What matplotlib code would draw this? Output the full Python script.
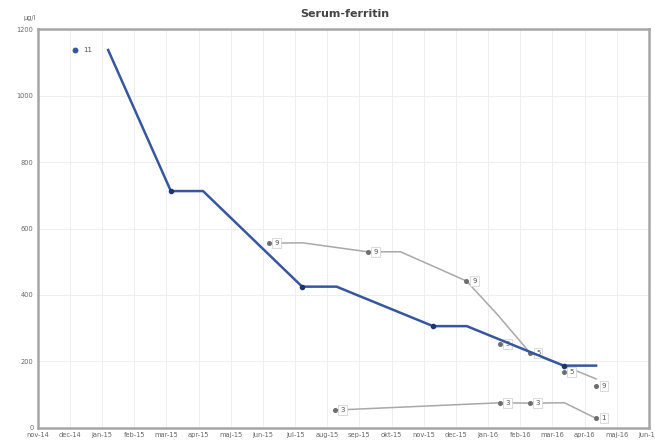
import matplotlib.pyplot as plt
import numpy as np

# x positions are months counted from nov-14 (0 = nov-14)
month_labels = ["nov-14", "dec-14", "jan-15", "feb-15", "mar-15", "apr-15",
                "maj-15", "jun-15", "jul-15", "aug-15", "sep-15", "okt-15",
                "nov-15", "dec-15", "jan-16", "feb-16", "mar-16", "apr-16",
                "maj-16", "jun-16"]

# blue series (line with markers on the measured points)
blue_x = [2.19, 4.14, 5.14, 8.22, 9.29, 12.29, 13.34, 16.35, 17.36]
blue_y = [1138, 713, 713, 425, 425, 306, 306, 187, 187]
blue_mx = [4.14, 8.22, 12.29, 16.35]
blue_my = [713, 425, 306, 187]

# upper grey series
grey1_x = [7.19, 8.24, 10.26, 11.28, 13.33, 14.3, 15.32, 16.35, 17.36]
grey1_y = [556, 557, 530, 530, 442, 340, 224, 187, 147]
grey1_mx = [7.19, 10.26, 13.33]
grey1_my = [556, 530, 442]
grey1_lab = ["9", "9", "9"]

# loose grey points near the end
grey2_x = [14.36, 15.32, 16.35, 17.36]
grey2_y = [251, 224, 167, 126]
grey2_lab = ["5", "5", "5", "9"]

# lower grey series
grey3_x = [9.24, 14.36, 15.30, 16.38, 17.36]
grey3_y = [53, 75, 74, 75, 28]
grey3_mx = [9.24, 14.36, 15.30, 17.36]
grey3_my = [53, 75, 74, 28]
grey3_lab = ["3", "3", "3", "1"]

fig = plt.figure(figsize=(6.55, 4.41), dpi=100)
ax = fig.add_axes([0.0576, 0.0302, 0.933, 0.903])

blue = "#3656a0"
grey = "#a8a8a8"
mgrey = "#6e6e6e"
box = dict(boxstyle="square,pad=0.3", fc="white", ec="#d4d4d4", lw=0.6)


def put_labels(xs, ys, labs):
    for x, y, t in zip(xs, ys, labs):
        ax.annotate(t, (x, y), xytext=(4, 0), textcoords="offset points",
                    fontsize=5, color="#555555", va="center", ha="left",
                    bbox=box)


ax.plot(grey1_x, grey1_y, color=grey, lw=1.1, zorder=2)
ax.plot(grey1_mx, grey1_my, "o", color=mgrey, ms=2.6, zorder=3)
put_labels(grey1_mx, grey1_my, grey1_lab)

ax.plot(grey3_x, grey3_y, color=grey, lw=1.1, zorder=2)
ax.plot(grey3_mx, grey3_my, "o", color=mgrey, ms=2.6, zorder=3)
put_labels(grey3_mx, grey3_my, grey3_lab)

ax.plot(grey2_x, grey2_y, "o", color=mgrey, ms=2.6, zorder=3)
put_labels(grey2_x, grey2_y, grey2_lab)

ax.plot(blue_x, blue_y, color=blue, lw=1.8, zorder=4)
ax.plot(blue_mx, blue_my, "o", color="#1f3570", ms=3, zorder=5)

# legend entry drawn inside the plot like the original
ax.plot([1.16], [1138], "o", color=blue, ms=3.2)
ax.text(1.4, 1138, "11", fontsize=5, color="#555555", va="center")

ax.set_xlim(0, 19)
ax.set_ylim(0, 1200)
ax.set_xticks(np.arange(len(month_labels)))
ax.set_xticklabels(month_labels, fontsize=4.8, color="#666666")
ax.set_yticks(np.arange(0, 1201, 200))
ax.set_yticklabels([str(v) for v in range(0, 1201, 200)], fontsize=4.8,
                   color="#666666")
ax.tick_params(length=0, pad=3)
ax.grid(True, color="#efefef", lw=0.7)
ax.set_axisbelow(True)
for s in ax.spines.values():
    s.set_color("#a6a6a6")
    s.set_linewidth(1.8)

fig.text(0.527, 0.968, "Serum-ferritin", ha="center", va="center",
         fontsize=8, fontweight="bold", color="#444444")
fig.text(0.046, 0.96, "µg/l", ha="center", va="center", fontsize=4.8,
         color="#666666")

fig.savefig("out.png", dpi=100)
